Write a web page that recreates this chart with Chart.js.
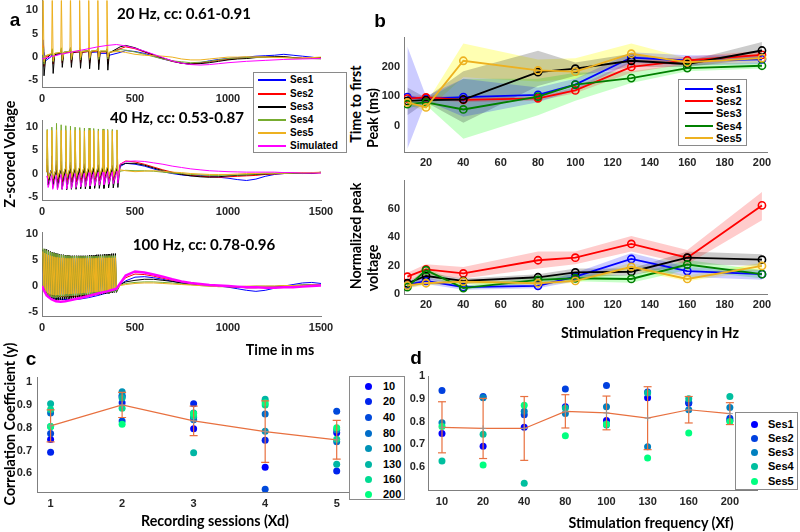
<!DOCTYPE html>
<html><head><meta charset="utf-8">
<script src="https://cdn.jsdelivr.net/npm/chart.js@4/dist/chart.umd.min.js"></script>
<style>
body{margin:0;background:#fff;width:800px;height:532px;overflow:hidden;position:relative}
canvas{position:absolute}
.t{position:absolute;white-space:nowrap;font-weight:bold;color:#000;line-height:1;z-index:20}
.leg{position:absolute;border:1px solid #8a8a8a;background:#fff;z-index:30;box-sizing:border-box}
.li{position:absolute;font:bold 11px "Liberation Sans",Arial,sans-serif;color:#000;line-height:1;white-space:nowrap}
</style></head><body>
<script>
// ================= DATA =================
// ---- panel a : time axis (ms) ----
const POST_T = [420,450,500,550,600,650,700,750,800,850,900,950,1000,1050,1100,1150,1200,1250,1300,1350,1400,1450,1500];
const A_TICKS_X = [0,500,1000,1500];
const A_TICKS_Y = [-5,0,5,10];
const A_NAMES = ['Ses1','Ses2','Ses3','Ses4','Ses5','Simulated'];

// 20 Hz
const A20_PULSES = [6,55,104,153,202,251,300,349];
const A20_SES1 = {bs:[1.0,0.2,0.8,1.3,1.1,1.2,1.1,0.8], pk:[3.7,1.0,1.6,2.0,1.8,1.8,1.6,1.2], tr:[1.2,-0.5,0.2,0.4,0.4,0.4,0.2,0.0], rc:[-0.8,0.3,1.0,1.0,1.0,1.0,0.8,0.4]};
const A20_SES2 = {bs:[0.8,0.6,0.9,1.0,1.1,1.2,1.3,1.1], pk:[2.5,1.3,1.5,1.6,1.7,1.7,1.7,1.5], tr:[-2.0,-1.5,-1.2,-1.2,-1.3,-1.3,-1.4,-1.5], rc:[0.0,0.6,0.9,1.0,1.0,1.1,1.1,0.9]};
const A20_SES3 = {bs:[1.0,0.8,1.0,1.2,1.3,1.4,1.5,1.2], pk:[2.0,1.6,1.8,1.8,1.9,2.0,2.0,1.7], tr:[-4.0,-3.5,-2.2,-2.2,-2.4,-2.5,-2.7,-2.8], rc:[-0.5,0.5,0.8,1.0,1.1,1.2,1.2,0.9]};
const A20_SES4 = {bs:[0.5,0.6,1.0,1.2,1.3,1.4,1.4,1.3], pk:[2.0,1.8,2.0,2.0,2.0,2.0,2.0,1.8], tr:[-1.5,-1.0,-0.8,-0.6,-0.6,-0.5,-0.5,-0.4], rc:[0.3,0.8,1.1,1.2,1.3,1.3,1.3,1.0]};
const A20_SES5 = {bs:[0.5,0.8,1.0,1.2,1.3,1.3,1.4,1.3], pk:[14,14,14,14,14,14,14,14], tr:[-1.0,-0.8,-0.5,-0.3,-0.2,-0.2,0.0,0.0], rc:[0.3,0.8,1.0,1.2,1.2,1.3,1.3,1.1]};
const A20_POST = [
  [1.0,1.4,1.2,0.8,0.2,-0.4,-0.9,-1.3,-1.5,-1.2,-0.8,-0.5,-0.3,-0.1,0,0.2,0.3,0.4,0.6,0.4,0.2,0,-0.3],
  [1.8,2.2,1.8,1.1,0.4,-0.3,-0.9,-1.3,-1.5,-1.3,-1.0,-0.7,-0.5,-0.3,-0.2,0,0,0.1,0,-0.1,-0.2,-0.2,-0.1],
  [2.2,2.5,2.0,1.2,0.5,-0.2,-0.8,-1.3,-1.5,-1.4,-1.2,-0.9,-0.6,-0.4,-0.3,-0.1,0,0.1,0.1,-0.1,-0.3,-0.3,-0.1],
  [1.6,1.5,1.1,0.6,0.1,-0.4,-0.8,-1.0,-1.2,-1.1,-0.9,-0.6,-0.3,-0.2,-0.1,0,0,0,-0.1,-0.2,-0.3,-0.3,-0.4],
  [1.2,1.0,0.6,0.4,0.3,0.2,0,-0.4,-0.6,-0.6,-0.4,-0.2,0,0,0.1,0,0,-0.1,-0.1,-0.2,-0.2,-0.1,0]
];
const A20_SIM_T = [0,50,100,150,200,250,300,350,400,450,500,550,600,650,700,750,800,850,900,950,1000,1100,1200,1300,1400,1500];
const A20_SIM_V = [-0.4,0.1,0.6,1.0,1.4,1.8,2.2,2.5,2.7,2.4,1.9,1.3,0.6,-0.1,-0.8,-1.3,-1.6,-1.7,-1.6,-1.4,-1.2,-0.9,-0.7,-0.5,-0.4,-0.3];

// 40 Hz
const A40_PULSES = [28,53,78,103,128,153,178,203,228,253,278,303,328,353,378,403];
const A40_SES1 = {bs:[0.3,0.8,0.8,0.9,0.9,1.0,1.0,1.0,1.0,1.0,1.0,1.0,1.0,1.0,1.0,1.0], pk:[3.2,3.8,2.8,2.6,2.5,2.4,2.3,2.2,2.1,2.0,2.0,1.9,1.9,1.8,1.8,1.7], tr:[-1.0,-1.3,-1.3,-1.2,-1.2,-1.2,-1.2,-1.1,-1.1,-1.1,-1.1,-1.0,-1.0,-1.0,-1.0,-0.9]};
const A40_SES2 = {bs:[0.3,0.6,0.7,0.7,0.8,0.8,0.8,0.8,0.8,0.8,0.8,0.8,0.8,0.8,0.8,0.8], pk:[2.0,2.2,2.1,2.0,2.0,2.0,1.9,1.9,1.9,1.8,1.8,1.8,1.8,1.7,1.7,1.7], tr:[-1.5,-1.8,-1.9,-1.9,-1.8,-1.8,-1.8,-1.7,-1.7,-1.7,-1.6,-1.6,-1.6,-1.5,-1.5,-1.5]};
const A40_SES3 = {bs:[0.4,0.7,0.8,0.8,0.9,0.9,0.9,0.9,0.9,0.9,0.9,0.9,0.9,0.9,0.9,0.9], pk:[1.8,1.9,1.9,1.8,1.8,1.8,1.8,1.7,1.7,1.7,1.7,1.7,1.6,1.6,1.6,1.6], tr:[-2.5,-3.0,-3.3,-3.4,-3.5,-3.4,-3.4,-3.3,-3.3,-3.3,-3.2,-3.2,-3.2,-3.1,-3.1,-3.0]};
const A40_SES4 = {bs:[0.5,0.7,0.9,1.0,1.1,1.1,1.2,1.2,1.2,1.2,1.2,1.2,1.2,1.2,1.2,1.2], pk:[9.5,10.0,10.8,10.5,10.3,10.2,10.0,9.9,9.8,9.8,9.7,9.6,9.6,9.5,9.5,9.4], tr:[-1.2,-1.2,-1.1,-1.1,-1.0,-1.0,-1.0,-0.9,-0.9,-0.9,-0.9,-0.8,-0.8,-0.8,-0.8,-0.8]};
const A40_SES5 = {bs:[0.3,0.6,0.8,1.0,1.1,1.2,1.2,1.3,1.3,1.3,1.4,1.4,1.4,1.4,1.4,1.4], pk:[9.3,9.3,9.4,9.3,9.3,9.3,9.3,9.3,9.2,9.3,9.3,9.2,9.3,9.3,9.2,9.3], tr:[-1.0,-0.9,-0.8,-0.8,-0.7,-0.7,-0.6,-0.6,-0.6,-0.5,-0.5,-0.5,-0.5,-0.5,-0.5,-0.4]};
const A40_SIM  = {bs:[-0.8,-0.7,-0.6,-0.5,-0.4,-0.3,-0.3,-0.2,-0.2,-0.1,-0.1,0.0,0.0,0.1,0.1,0.2], pk:[-0.5,-0.4,-0.3,-0.2,-0.1,0.0,0.0,0.1,0.1,0.2,0.2,0.3,0.3,0.4,0.4,0.5], tr:[-3.0,-3.4,-3.5,-3.4,-3.3,-3.2,-3.0,-2.9,-2.8,-2.7,-2.6,-2.5,-2.4,-2.3,-2.2,-2.1]};
const A40_POST = [
  [1.5,2.2,2.0,1.6,1.0,0.4,0,-0.3,-0.5,-0.4,-0.6,-0.8,-1.0,-1.3,-1.5,-1.2,-0.6,-0.2,0,0.2,0.1,0,0.3],
  [2.0,2.7,2.5,2.0,1.4,0.8,0.3,-0.1,-0.4,-0.6,-0.7,-0.8,-0.7,-0.6,-0.5,-0.4,-0.2,-0.1,0,0.1,0.2,0.1,0.2],
  [1.8,2.2,2.2,1.8,1.2,0.6,0.2,-0.2,-0.5,-0.7,-0.8,-0.7,-0.5,-0.4,-0.3,-0.2,-0.1,0,0.1,0.1,0,0.1,0.2],
  [0.5,0.7,0.6,0.6,0.5,0.3,0.1,0,-0.2,-0.3,-0.4,-0.4,-0.3,-0.3,-0.2,-0.1,0,0,0,0.1,0.1,0.2,0.2],
  [0.8,0.6,0.4,0.5,0.6,0.5,0.3,0.2,0,-0.1,-0.2,-0.2,-0.2,-0.1,0,0,0.1,0.1,0.1,0.2,0.2,0.2,0.3],
  [2.0,2.6,2.7,2.6,2.3,2.0,1.6,1.3,1.0,0.8,0.6,0.5,0.4,0.35,0.3,0.3,0.3,0.3,0.2,0.2,0.1,0.1,0.1]
];

// 100 Hz
const A100_PULSES = [5,15,25,35,45,55,65,75,85,95,105,115,125,135,145,155,165,175,185,195,205,215,225,235,245,255,265,275,285,295,305,315,325,335,345,355,365,375,385,395];
const A100_SES3 = {
  pk:[7.0,7.1,7.0,6.8,6.6,6.5,6.4,6.3,6.2,6.1, 6.0,6.0,5.9,5.9,5.9,5.8,5.8,5.8,5.8,5.8, 5.8,5.8,5.8,5.8,5.8,5.9,5.9,5.9,5.9,6.0, 6.0,6.0,6.0,6.1,6.1,6.1,6.1,6.2,6.2,6.2],
  tr:[-0.8,-1.6,-2.1,-2.4,-2.6,-2.7,-2.7,-2.7,-2.7,-2.6, -2.6,-2.5,-2.5,-2.5,-2.4,-2.4,-2.3,-2.3,-2.2,-2.2, -2.1,-2.1,-2.0,-2.0,-1.9,-1.9,-1.8,-1.8,-1.7,-1.7, -1.6,-1.6,-1.5,-1.5,-1.4,-1.4,-1.3,-1.3,-1.2,-1.2]};
const A100_SES4 = {
  pk:[7.2,7.0,6.8,6.6,6.5,6.4,6.3,6.2,6.1,6.0, 5.9,5.9,5.8,5.8,5.8,5.7,5.7,5.7,5.7,5.7, 5.7,5.7,5.7,5.7,5.7,5.7,5.7,5.7,5.7,5.7, 5.7,5.8,5.8,5.8,5.8,5.8,5.8,5.8,5.8,5.8],
  tr:[-0.5,-1.2,-1.6,-1.9,-2.1,-2.2,-2.2,-2.2,-2.1,-2.1, -2.0,-2.0,-2.0,-1.9,-1.9,-1.9,-1.8,-1.8,-1.8,-1.7, -1.7,-1.7,-1.6,-1.6,-1.6,-1.5,-1.5,-1.5,-1.4,-1.4, -1.4,-1.3,-1.3,-1.3,-1.2,-1.2,-1.2,-1.1,-1.1,-1.0]};
const A100_SES5 = {
  pk:[6.6,6.3,6.1,5.9,5.8,5.7,5.6,5.5,5.5,5.4, 5.4,5.4,5.3,5.3,5.3,5.3,5.3,5.3,5.3,5.3, 5.3,5.3,5.3,5.3,5.3,5.3,5.3,5.3,5.3,5.3, 5.4,5.4,5.4,5.4,5.4,5.4,5.4,5.4,5.4,5.4],
  tr:[-0.5,-1.0,-1.3,-1.5,-1.6,-1.7,-1.7,-1.7,-1.7,-1.6, -1.6,-1.6,-1.5,-1.5,-1.5,-1.5,-1.4,-1.4,-1.4,-1.4, -1.3,-1.3,-1.3,-1.3,-1.2,-1.2,-1.2,-1.1,-1.1,-1.1, -1.0,-1.0,-1.0,-0.9,-0.9,-0.9,-0.8,-0.8,-0.7,-0.7]};
const A100_SLOW_T = [0,20,50,100,150,200,250,300,350,400];
const A100_SES1_V = [0,-1.5,-2.2,-2.5,-2.6,-2.5,-2.2,-1.8,-1.3,-0.8];
const A100_SES2_V = [0,-1.2,-1.8,-2.0,-2.0,-1.9,-1.7,-1.4,-1.0,-0.6];
const A100_SIM_T = [0,10,25,50,75,100,125,150,200,250,300,350,400];
const A100_SIM_V = [0,-0.8,-1.8,-2.5,-2.9,-3.0,-2.9,-2.7,-2.3,-1.9,-1.4,-1.0,-0.5];
const A100_POST = [
  [0.3,1.0,1.7,1.8,1.6,1.3,0.9,0.6,0.4,0.3,0.1,0,-0.2,-0.5,-0.8,-1.0,-0.8,-0.4,0,0.3,0.6,0.7,0.5],
  [0.5,1.6,2.3,2.2,1.9,1.5,1.1,0.8,0.5,0.3,0.1,0,-0.1,-0.2,-0.3,-0.3,-0.2,-0.1,0,0.1,0.1,0.2,0.2],
  [0.3,0.8,1.1,1.3,1.3,1.1,0.9,0.6,0.4,0.2,0.1,0,-0.1,-0.2,-0.3,-0.3,-0.2,-0.1,0,0.1,0.2,0.2,0.2],
  [0.2,0.5,0.7,0.8,0.8,0.7,0.6,0.4,0.3,0.1,0,-0.1,-0.1,-0.1,-0.1,0,0,0,0.1,0.1,0.2,0.2,0.2],
  [0.1,0.3,0.5,0.6,0.6,0.5,0.4,0.3,0.2,0.1,0,-0.1,-0.1,-0.1,0,0,0,0,0.1,0.1,0.1,0.2,0.2],
  [0.5,2.0,2.8,2.6,2.2,1.8,1.3,0.9,0.6,0.4,0.2,0.1,0,-0.1,-0.2,-0.2,-0.3,-0.3,-0.2,-0.2,-0.1,0,0.1]
];

// ---- panel b ----
const B_FREQ = [10,20,40,80,100,130,160,200];
const B_TICKS_X = [20,40,60,80,100,120,140,160,180,200];
const B_NAMES = ['Ses1','Ses2','Ses3','Ses4','Ses5'];
const B1_TICKS_Y = [0,100,200];
const B1_MEAN = [
  [97,92,97,105,140,232,222,226],
  [92,96,88,93,120,200,222,241],
  [84,87,89,182,194,221,210,256],
  [73,79,55,99,140,162,196,204],
  [79,62,221,188,184,245,216,230]];
const B1_LO = [
  [-80,85,30,80,120,215,205,210],
  [85,88,80,85,110,180,210,230],
  [35,80,10,135,170,200,200,230],
  [60,70,-45,35,85,145,185,195],
  [70,50,165,150,160,220,205,215]];
const B1_HI = [
  [270,100,160,130,160,250,240,240],
  [100,104,95,100,130,220,235,255],
  [130,95,185,255,215,245,220,285],
  [85,90,160,160,180,185,210,215],
  [90,75,280,225,230,280,230,245]];
const B2_TICKS_Y = [0,20,40,60];
const B2_MEAN = [
  [6.5,9.2,4.8,5.8,12.2,24.7,16.2,14],
  [12.2,17.4,14.5,23.8,25.6,35.3,25.6,62.5],
  [7.6,12.7,9.2,11.8,15.2,15.7,25.6,24.2],
  [4.8,16.8,4.2,9.9,11.1,10.6,20.8,14],
  [6,7.6,8.8,7.6,9.2,19.2,10.6,19.8]];
const B2_LO = [
  [4,7,3,4,9,20,12,10],
  [9,14,11,18,21,30,21,52],
  [6,10,7,9,12,13,21,20],
  [3,14,3,8,9,8,17,11],
  [4,6,7,6,8,17,9,17]];
const B2_HI = [
  [8,12,6,8,15,29,19,17],
  [15,21,19,30,30,41,31,72],
  [9,15,11,14,18,18,30,28],
  [6,19,6,12,14,13,24,17],
  [8,9,10,9,11,22,13,22]];

// ---- panels c & d : correlation coefficients cc[session][frequency] ----
const CD_FREQ_LABELS = ['10','20','40','80','100','130','160','200'];
const CD_SES_LABELS = ['Ses1','Ses2','Ses3','Ses4','Ses5'];
const CC = [
  [0.748,0.692,0.775,0.865,0.805,0.905,0.880,0.805],
  [0.936,0.910,0.830,0.943,0.958,0.930,0.885,0.815],
  [0.795,0.905,0.845,0.835,0.865,0.690,0.852,0.862],
  [0.627,0.745,0.530,0.860,0.785,0.925,0.900,0.910],
  [0.778,0.610,0.872,0.738,0.790,0.640,0.750,0.800]];
const C_SESSIONS = [1,2,3,4,5];
const C_MEAN = [0.808,0.900,0.830,0.783,0.747];
const C_ERR  = [0.070,0.055,0.065,0.135,0.085];
const C_TICKS_Y = [0.6,0.7,0.8,0.9,1];
const D_POS = [1,2,3,4,5,6,7,8];
const D_MEAN = [0.775,0.770,0.770,0.845,0.838,0.815,0.852,0.835];
const D_ERR  = [0.112,0.132,0.140,0.073,0.074,0.138,0.058,0.048];
const D_TICKS_Y = [0.6,0.7,0.8,0.9,1];

// ================= STYLE =================
const A_COLORS = ['#0000ff','#ff0000','#000000','#77ac30','#edb120','#ff00ff'];
const B_COLORS = ['#0000ff','#ff0000','#000000','#008000','#edb120'];
const B_FILLS = ['rgba(0,0,255,0.2)','rgba(255,0,0,0.2)','rgba(0,0,0,0.2)','rgba(0,255,0,0.22)','rgba(255,255,0,0.3)'];
const WINTER8 = ['#0000ff','#0024ed','#0049db','#006dc9','#0092b6','#00b6a4','#00db92','#00ff80'];
const WINTER5 = ['#0000ff','#0040df','#0080bf','#00bf9f','#00ff80'];
const ORANGE = '#e8703f';
const TICK_FONT = {family:'"Liberation Sans", Arial, sans-serif', weight:'bold', size:11};
const LABEL_FAMILY = 'Lato, "Open Sans", sans-serif';

// ================= HELPERS =================
function stimPts(pulses, arrs, offs){
  const out=[];
  pulses.forEach((p,i)=>{ ['bs','pk','tr','rc'].forEach(k=>{ if(arrs[k]) out.push({x:p+offs[k], y:arrs[k][i]}); }); });
  return out;
}
const postPts = v => POST_T.map((t,i)=>({x:t,y:v[i]}));
const pairPts = (T,V) => T.map((t,i)=>({x:t,y:V[i]}));

function sc(pos,min,max,ticks,size,pad,fmt){
  return {type:'linear',position:pos,min:min,max:max,
    grid:{display:false,drawTicks:false},
    border:{display:true,color:'#7f7f7f',width:1},
    ticks:{font:TICK_FONT,color:'#262626',padding:pad,autoSkip:false,maxRotation:0,minRotation:0,
      callback: fmt || (v=>String(v))},
    afterBuildTicks: s=>{ s.ticks = ticks.map(v=>({value:v})); },
    afterFit: s=>{ if(pos==='left') s.width=size; else s.height=size; }
  };
}
// rect=[left,right,top,bottom] of plot area ; pad=[yAxisW, top, right, xAxisH]
function mkChart(rect,pad,datasets,xs,ys){
  const c=document.createElement('canvas');
  const W=rect[1]-rect[0]+pad[0]+pad[2], H=rect[3]-rect[2]+pad[1]+pad[3];
  c.width=W; c.height=H;
  c.style.left=(rect[0]-pad[0])+'px'; c.style.top=(rect[2]-pad[1])+'px';
  c.style.width=W+'px'; c.style.height=H+'px';
  document.body.appendChild(c);
  return new Chart(c,{type:'line',data:{datasets:datasets},options:{
    responsive:false,animation:false,events:[],
    layout:{padding:{left:0,top:pad[1],right:pad[2],bottom:0}},
    plugins:{legend:{display:false},tooltip:{enabled:false}},
    scales:{x:xs,y:ys}}});
}
function aSets(traces,widths){
  return traces.map((d,i)=>({data:d,borderColor:A_COLORS[i],borderWidth:(widths&&widths[i])||1,
    pointRadius:0,tension:0,fill:false,order:6-i}));
}
function measure(text){
  const d=document.createElement('div'); d.className='t'; d.textContent=text;
  d.style.fontFamily=LABEL_FAMILY; d.style.fontSize='20px'; d.style.visibility='hidden';
  document.body.appendChild(d);
  const w=d.getBoundingClientRect().width; d.remove(); return w;
}
function label(text,cx,cy,fs,rot){
  const d=document.createElement('div'); d.className='t'; d.textContent=text;
  d.style.fontFamily=LABEL_FAMILY; d.style.fontSize=fs.toFixed(2)+'px';
  d.style.left=cx+'px'; d.style.top=cy+'px';
  d.style.transform='translate(-50%,-50%)'+(rot?' rotate(-90deg)':'');
  document.body.appendChild(d);
}
function letter(ch,cx,cy){
  const d=document.createElement('div'); d.className='t'; d.textContent=ch;
  d.style.font='bold 19px "Liberation Sans", Arial, sans-serif';
  d.style.left=cx+'px'; d.style.top=cy+'px'; d.style.transform='translate(-50%,-50%)';
  document.body.appendChild(d);
}
function legend(box,names,colors,rows,kind,symX,symW,txtX,fs){
  const L=document.createElement('div'); L.className='leg';
  L.style.left=box[0]+'px'; L.style.top=box[1]+'px'; L.style.width=(box[2]-box[0])+'px'; L.style.height=(box[3]-box[1])+'px';
  names.forEach((n,i)=>{
    const s=document.createElement('div'); s.style.position='absolute';
    if(kind==='line'){ s.style.left=symX+'px'; s.style.top=(rows[i]-1)+'px'; s.style.width=symW+'px'; s.style.height='2px'; s.style.background=colors[i]; }
    else { s.style.left=(symX-3.5)+'px'; s.style.top=(rows[i]-3.5)+'px'; s.style.width='7px'; s.style.height='7px'; s.style.borderRadius='50%'; s.style.background=colors[i]; }
    L.appendChild(s);
    const t=document.createElement('div'); t.className='li'; t.textContent=n; t.style.left=txtX+'px'; t.style.top=rows[i]+'px';
    t.style.fontSize=fs+'px'; t.style.transform='translateY(-50%)';
    L.appendChild(t);
  });
  document.body.appendChild(L);
}

// ================= PANEL a =================
const O4 = {bs:-3,pk:0,tr:5,rc:13};
const a20 = [A20_SES1,A20_SES2,A20_SES3,A20_SES4,A20_SES5].map((s,i)=>stimPts(A20_PULSES,s,O4).concat(postPts(A20_POST[i])));
a20.push(pairPts(A20_SIM_T,A20_SIM_V));
const a40 = [A40_SES1,A40_SES2,A40_SES3,A40_SES4,A40_SES5,A40_SIM].map((s,i)=>stimPts(A40_PULSES,s,O4).concat(postPts(A40_POST[i])));
const a100 = [
  pairPts(A100_SLOW_T,A100_SES1_V).concat(postPts(A100_POST[0])),
  pairPts(A100_SLOW_T,A100_SES2_V).concat(postPts(A100_POST[1])),
  stimPts(A100_PULSES,A100_SES3,O4).concat(postPts(A100_POST[2])),
  stimPts(A100_PULSES,A100_SES4,O4).concat(postPts(A100_POST[3])),
  stimPts(A100_PULSES,A100_SES5,O4).concat(postPts(A100_POST[4])),
  pairPts(A100_SIM_T,A100_SIM_V).concat(postPts(A100_POST[5]))];

mkChart([42,321,0,87],[42,10,24,20],aSets(a20),sc('bottom',0,1500,A_TICKS_X,20,5),sc('left',-6.4,12.1,A_TICKS_Y,42,4));
mkChart([42,321,120,200],[42,10,24,20],aSets(a40),sc('bottom',0,1500,A_TICKS_X,20,5),sc('left',-5.7,11.4,A_TICKS_Y,42,4));
mkChart([42,321,232,316],[42,10,24,20],aSets(a100,[1,1,1,1,1,2.5]),sc('bottom',0,1500,A_TICKS_X,20,5),sc('left',-5.7,10.2,A_TICKS_Y,42,4));

// ================= PANEL b =================
function bSets(MEAN,LO,HI){
  const ds=[];
  for(let i=0;i<5;i++){
    ds.push({data:B_FREQ.map((f,k)=>({x:f,y:HI[i][k]})),borderWidth:0,pointRadius:0,fill:false,order:20+i});
    ds.push({data:B_FREQ.map((f,k)=>({x:f,y:LO[i][k]})),borderWidth:0,pointRadius:0,fill:'-1',backgroundColor:B_FILLS[i],order:20+i});
  }
  for(let i=0;i<5;i++){
    ds.push({data:B_FREQ.map((f,k)=>({x:f,y:MEAN[i][k]})),borderColor:B_COLORS[i],borderWidth:1.8,tension:0,fill:false,
      pointRadius:3.6,pointStyle:'circle',pointBorderColor:B_COLORS[i],pointBackgroundColor:'rgba(0,0,0,0)',pointBorderWidth:1.6,order:5-i});
  }
  return ds;
}
mkChart([404,767,37,152],[32,10,14,20],bSets(B1_MEAN,B1_LO,B1_HI),sc('bottom',8.2,202.7,B_TICKS_X,20,4),sc('left',-90,300,B1_TICKS_Y,32,4));
mkChart([404,767,180,294],[32,10,14,20],bSets(B2_MEAN,B2_LO,B2_HI),sc('bottom',8.2,202.7,B_TICKS_X,20,4),sc('left',0,80,B2_TICKS_Y,32,4));

// ================= PANELS c, d =================
function errSets(X,M,E){
  const ds=[{data:X.map((x,i)=>({x:x,y:M[i]})),showLine:true,borderColor:ORANGE,borderWidth:1.2,tension:0,
    pointRadius:3,pointStyle:'cross',pointBorderColor:'rgba(150,150,150,0.9)',pointBorderWidth:1,order:0}];
  X.forEach((x,i)=>ds.push({data:[{x:x,y:M[i]-E[i]},{x:x,y:M[i]+E[i]}],showLine:true,borderColor:ORANGE,borderWidth:1.2,
    pointStyle:'line',pointRadius:4,pointBorderColor:ORANGE,pointBorderWidth:1.2,order:0}));
  return ds;
}
const cSets = CD_FREQ_LABELS.map((f,j)=>({data:C_SESSIONS.map((s,i)=>({x:s,y:CC[i][j]})),showLine:false,
  pointRadius:3.5,pointBackgroundColor:WINTER8[j],pointBorderWidth:0,order:20-j})).concat(errSets(C_SESSIONS,C_MEAN,C_ERR));
mkChart([37,351,376,492],[37,10,20,22],cSets,sc('bottom',0.81,5.2,C_SESSIONS,22,5),sc('left',0.518,1.02,C_TICKS_Y,37,5));

const dSets = CD_SES_LABELS.map((s,i)=>({data:D_POS.map((p,j)=>({x:p,y:CC[i][j]})),showLine:false,
  pointRadius:3.5,pointBackgroundColor:WINTER5[i],pointBorderWidth:0,order:20-i})).concat(errSets(D_POS,D_MEAN,D_ERR));
mkChart([428,757,376,490],[30,10,20,22],dSets,sc('bottom',0.66,8.66,D_POS,22,5,v=>CD_FREQ_LABELS[v-1]),sc('left',0.5,1.0,D_TICKS_Y,30,3));

// ================= TEXT =================
letter('a',15,20); letter('b',380,21); letter('c',31,359); letter('d',416,358);
const FS_AX = 20*178/measure('Stimulation Frequency in Hz');
const FS_TI = 20*134/measure('20 Hz, cc: 0.61-0.91');
label('20 Hz, cc: 0.61-0.91',184,14,FS_TI);
label('40 Hz, cc: 0.53-0.87',177,118,FS_TI);
label('100 Hz, cc: 0.78-0.96',204,245,FS_TI);
label('Z-scored Voltage',10,154,FS_AX,true);
label('Time in ms',280,350,FS_AX);
label('Time to first',356,104,FS_AX,true);
label('Peak (ms)',373,118,FS_AX,true);
label('Normalized peak',356,236,FS_AX,true);
label('voltage',373,268,FS_AX,true);
label('Stimulation Frequency in Hz',650,333,FS_AX);
label('Correlation Coefficient (y)',10,424,FS_AX,true);
label('Recording sessions (Xd)',215,521,FS_AX);
label('Stimulation frequency (Xf)',651,523,FS_AX);

legend([253,72,347,153],A_NAMES,A_COLORS,[7,21,34,47,60,73],'line',4,28,36,10);
legend([678,79,747,146],B_NAMES,B_COLORS,[8.5,21,33,46,58],'line',6,28,37,11);
legend([349,376,405,500],CD_FREQ_LABELS,WINTER8,[9,24,40,56,71,87,102,117],'dot',18,0,33,11);
legend([735,412,798,490],CD_SES_LABELS,WINTER5,[11,25,39,53,68],'dot',18,0,32,11);
</script>
</body></html>
